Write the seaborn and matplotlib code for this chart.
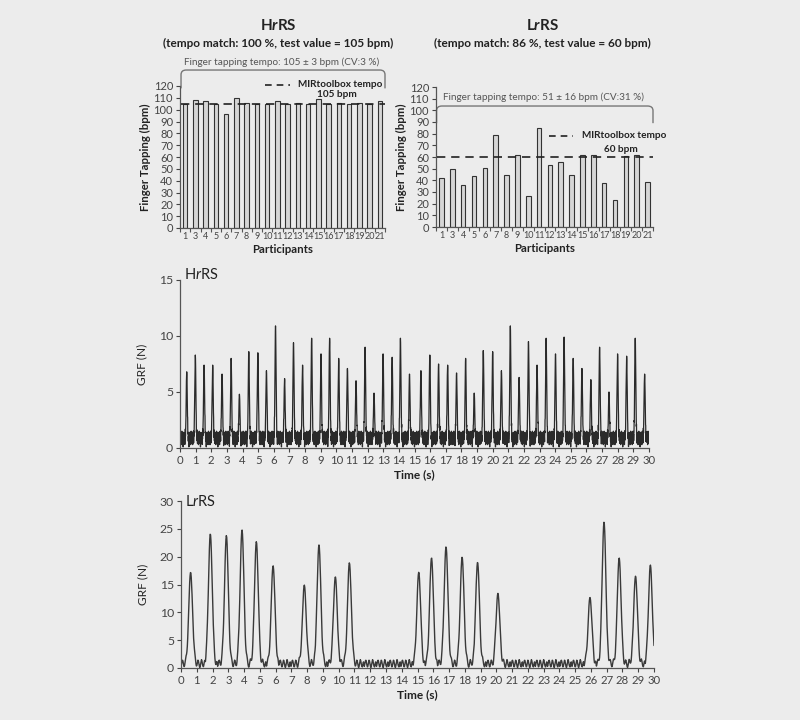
import numpy as np
import pandas as pd
import matplotlib
matplotlib.use("Agg")
import matplotlib.pyplot as plt
import seaborn as sns
from matplotlib.path import Path
from matplotlib.patches import PathPatch

# ---------------- data ----------------
participants = ['1', '3', '4', '5', '6', '7', '8', '9', '10', '11', '12', '13',
                '14', '15', '16', '17', '18', '19', '20', '21']
hr_tapping = [104.5, 108, 107, 105, 96, 110, 106, 105, 105, 107, 105, 106,
              105, 109, 105, 106, 105, 106, 105, 107]
lr_tapping = [42, 50, 36, 44, 51, 79, 45, 62, 27, 85, 53, 56,
              45, 62, 62, 38, 23, 61, 62, 39]
hr_mir_tempo = 105
lr_mir_tempo = 60

hr_peak_times = [0.43, 0.98, 1.54, 2.09, 2.69, 3.27, 3.80, 4.40, 4.98, 5.53,
                 6.11, 6.69, 7.26, 7.84, 8.42, 9.02, 9.57, 10.15, 10.71, 11.26,
                 11.84, 12.41, 12.99, 13.57, 14.10, 14.68, 15.41, 15.98, 16.54,
                 17.12, 17.69, 18.27, 18.82, 19.40, 20.00, 20.56, 21.13, 21.69,
                 22.29, 22.84, 23.42, 24.02, 24.57, 25.15, 25.71, 26.28, 26.84,
                 27.44, 27.99, 28.57, 29.12, 29.72]
hr_peak_heights = [6.8, 8.3, 7.4, 7.4, 6.6, 8.0, 4.8, 8.6, 8.5, 6.9,
                   10.9, 6.2, 9.4, 7.4, 9.8, 8.4, 9.8, 8.0, 7.1, 6.0,
                   9.0, 4.9, 8.4, 8.1, 9.8, 6.6, 6.9, 8.3, 7.5,
                   7.4, 6.7, 8.0, 4.9, 8.7, 8.6, 6.9, 10.9, 6.3,
                   9.5, 7.4, 9.8, 8.4, 9.9, 8.0, 7.1, 6.1, 9.0,
                   5.0, 8.4, 8.2, 9.8, 6.6]
lr_peak_times = [0.61, 1.86, 2.88, 3.87, 4.78, 5.84, 7.82, 8.75, 9.79, 10.68,
                 15.08, 15.89, 16.81, 17.83, 18.81, 20.10, 25.94, 26.83, 27.79,
                 28.83, 29.77]
lr_peak_heights = [17.2, 24.1, 23.8, 24.8, 22.7, 18.4, 14.9, 22.1, 16.4, 18.9,
                   17.2, 19.8, 21.8, 19.9, 19.0, 13.4, 12.7, 26.2, 19.8,
                   16.5, 18.5]
hr_baseline = [0.9, 0.4, 1.2, 0.7, 1.4, 0.5, 1.0, 0.3, 1.3, 0.8, 1.1, 0.6,
               1.5, 0.4, 0.9, 1.2, 0.5, 1.0, 0.7, 1.3, 0.1, 1.1, 0.8, 1.4,
               0.6, 0.9, 1.2, 0.5, 1.0, 0.8, 1.3, 0.3, 1.1, 0.7, 1.5, 0.6, 0.9]
lr_baseline = [0.3, 0.6, 1.0, 1.3, 1.4, 1.2, 0.8, 0.4, 0.2, 0.3,
               0.7, 1.1, 1.4, 1.3, 0.9, 0.5, 0.2, 0.1, 0.4, 0.8,
               1.2, 1.5, 1.3, 0.9, 0.5, 0.3, 0.2, 0.5, 0.9, 1.1, 0.7]

# ---------------- build traces ----------------
t_hr = np.arange(0, 30.0001, 0.01)
y_hr = np.resize(np.array(hr_baseline), t_hr.size).astype(float)
for pt, ph in zip(hr_peak_times, hr_peak_heights):
    g = np.exp(-0.5 * ((t_hr - pt) / 0.035) ** 2)
    y_hr = y_hr * (1 - g) + ph * g
hr_df = pd.DataFrame({"t": t_hr, "grf": y_hr})

t_lr = np.arange(0, 30.0001, 0.025)
y_lr = np.resize(np.array(lr_baseline), t_lr.size).astype(float)
for pt, ph in zip(lr_peak_times, lr_peak_heights):
    g = np.exp(-0.5 * ((t_lr - pt) / 0.12) ** 2)
    y_lr = y_lr * (1 - g) + ph * g
lr_df = pd.DataFrame({"t": t_lr, "grf": y_lr})

# ---------------- style ----------------
BG = "#ececec"
FONT = 'Lato'
sns.set_theme(style="ticks")
plt.rcParams['font.family'] = [FONT, 'DejaVu Sans']
plt.rcParams['mathtext.fontset'] = 'custom'
plt.rcParams['mathtext.rm'] = FONT
plt.rcParams['mathtext.it'] = FONT + ':italic'
plt.rcParams['mathtext.bf'] = FONT + ':italic:bold'
plt.rcParams['axes.facecolor'] = BG
plt.rcParams['figure.facecolor'] = BG
plt.rcParams['text.color'] = '#222222'
plt.rcParams['axes.labelcolor'] = '#222222'
plt.rcParams['xtick.color'] = '#444444'
plt.rcParams['ytick.color'] = '#444444'

W, H = 800, 720
fig = plt.figure(figsize=(8, 7.2), dpi=100)


def add_ax(x0, y0, x1, y1):
    return fig.add_axes([x0 / W, 1 - y1 / H, (x1 - x0) / W, (y1 - y0) / H])


def style_spines(ax):
    for s in ['top', 'right']:
        ax.spines[s].set_visible(False)
    for s in ['left', 'bottom']:
        ax.spines[s].set_color('#555555')
        ax.spines[s].set_linewidth(0.9)


def bracket(ax, x0, x1, ytop, ybot, rx, ry):
    verts = [(x0, ybot), (x0, ytop - ry), (x0, ytop), (x0 + rx, ytop),
             (x1 - rx, ytop), (x1, ytop), (x1, ytop - ry), (x1, ybot)]
    codes = [Path.MOVETO, Path.LINETO, Path.CURVE3, Path.CURVE3,
             Path.LINETO, Path.CURVE3, Path.CURVE3, Path.LINETO]
    patch = PathPatch(Path(verts, codes), facecolor='none', edgecolor='#777777',
                      lw=1.0, clip_on=False)
    ax.add_patch(patch)


def bar_panel(ax, values, mir):
    df = pd.DataFrame({"p": participants, "v": values})
    sns.barplot(data=df, x="p", y="v", ax=ax, order=participants, width=0.42,
                color="#d6d6d6", edgecolor="#333333", linewidth=0.8,
                saturation=1, errorbar=None)
    ax.set_xlim(-0.5, len(participants) - 0.5)
    ax.set_ylim(0, 120)
    ax.set_yticks(range(0, 121, 10))
    ax.set_xticks(np.arange(-0.5, len(participants), 1.0), minor=True)
    ax.tick_params(axis='x', which='major', length=0, labelsize=6.5, pad=3)
    ax.tick_params(axis='x', which='minor', length=3, width=0.8, color='#555555')
    ax.tick_params(axis='y', length=3, width=0.8, labelsize=8, pad=2)
    ax.set_xlabel("Participants", fontsize=8.2, fontweight='bold', labelpad=2)
    ax.set_ylabel("Finger Tapping (bpm)", fontsize=8.2, fontweight='bold', labelpad=2)
    ax.plot([-0.4, len(participants) - 0.5], [mir, mir], ls=(0, (5, 3.5)),
            color='#222222', lw=1.2, zorder=5)
    style_spines(ax)


# ---------------- top left: HrRS bars ----------------
ax1 = add_ax(180, 86, 385, 228)
bar_panel(ax1, hr_tapping, hr_mir_tempo)
bracket(ax1, -0.4, 19.5, 133.5, 118, 0.5, 4)
ax1.text(9.4, 140.5, "Finger tapping tempo: 105 ± 3 bpm (CV:3 %)", ha='center',
         va='center', fontsize=7.2, color='#555555', clip_on=False)
ax1.plot([7.8, 10.2], [121, 121], ls=(0, (4, 3)), color='#222222', lw=1.2,
         clip_on=False)
ax1.text(11.0, 121, "MIRtoolbox tempo", ha='left', va='center', fontsize=7.2,
         fontweight='bold', clip_on=False)
ax1.text(14.8, 112.5, "105 bpm", ha='center', va='center', fontsize=7.2,
         fontweight='bold', clip_on=False)

# ---------------- top right: LrRS bars ----------------
ax2 = add_ax(436, 87, 653, 227)
bar_panel(ax2, lr_tapping, lr_mir_tempo)
bracket(ax2, -0.45, 19.5, 103.7, 89, 0.5, 4)
ax2.text(9.4, 111.5, "Finger tapping tempo: 51 ± 16 bpm (CV:31 %)", ha='center',
         va='center', fontsize=7.2, color='#555555', clip_on=False)
ax2.plot([9.9, 12.1], [78, 78], ls=(0, (4, 3)), color='#222222', lw=1.2,
         clip_on=False)
ax2.text(12.95, 78, "MIRtoolbox tempo", ha='left', va='center', fontsize=7.2,
         fontweight='bold', clip_on=False)
ax2.text(16.5, 66.5, "60 bpm", ha='center', va='center', fontsize=7.2,
         fontweight='bold', clip_on=False)

# ---------------- top titles ----------------
fig.text(278 / W, 1 - 25 / H, r"H$\mathbf{r}$RS", ha='center', va='center',
         fontsize=11, fontweight='bold')
fig.text(278 / W, 1 - 43 / H, "(tempo match: 100 %, test value = 105 bpm)",
         ha='center', va='center', fontsize=8.5, fontweight='bold')
fig.text(542 / W, 1 - 25 / H, r"L$\mathbf{r}$RS", ha='center', va='center',
         fontsize=11, fontweight='bold')
fig.text(542 / W, 1 - 43 / H, "(tempo match: 86 %, test value = 60 bpm)",
         ha='center', va='center', fontsize=8.5, fontweight='bold')


def grf_panel(ax, df, ymax, ystep, lw, color):
    sns.lineplot(data=df, x="t", y="grf", ax=ax, color=color, lw=lw,
                 estimator=None, sort=False)
    ax.set_xlim(0, 30)
    ax.set_ylim(0, ymax)
    ax.set_xticks(range(0, 31))
    ax.set_yticks(range(0, ymax + 1, ystep))
    ax.tick_params(axis='x', length=3, width=0.8, labelsize=8.2, pad=2)
    ax.tick_params(axis='y', length=3, width=0.8, labelsize=8.8, pad=2)
    ax.set_xlabel("Time (s)", fontsize=8.6, fontweight='bold', labelpad=2)
    ax.set_ylabel("GRF (N)", fontsize=8.6, labelpad=8)
    style_spines(ax)


# ---------------- middle: HrRS GRF ----------------
ax3 = add_ax(180, 280, 649, 448)
grf_panel(ax3, hr_df, 15, 5, 0.9, "#2a2a2a")
ax3.text(0.008, 1.03, r"H$\mathit{r}$RS", transform=ax3.transAxes, ha='left',
         va='center', fontsize=10.5)

# ---------------- bottom: LrRS GRF ----------------
ax4 = add_ax(181, 501, 654, 668)
grf_panel(ax4, lr_df, 30, 5, 1.0, "#3a3a3a")
ax4.text(0.008, 1.0, r"L$\mathit{r}$RS", transform=ax4.transAxes, ha='left',
         va='center', fontsize=10.5)

fig.savefig("out.png", dpi=100, facecolor=BG)
